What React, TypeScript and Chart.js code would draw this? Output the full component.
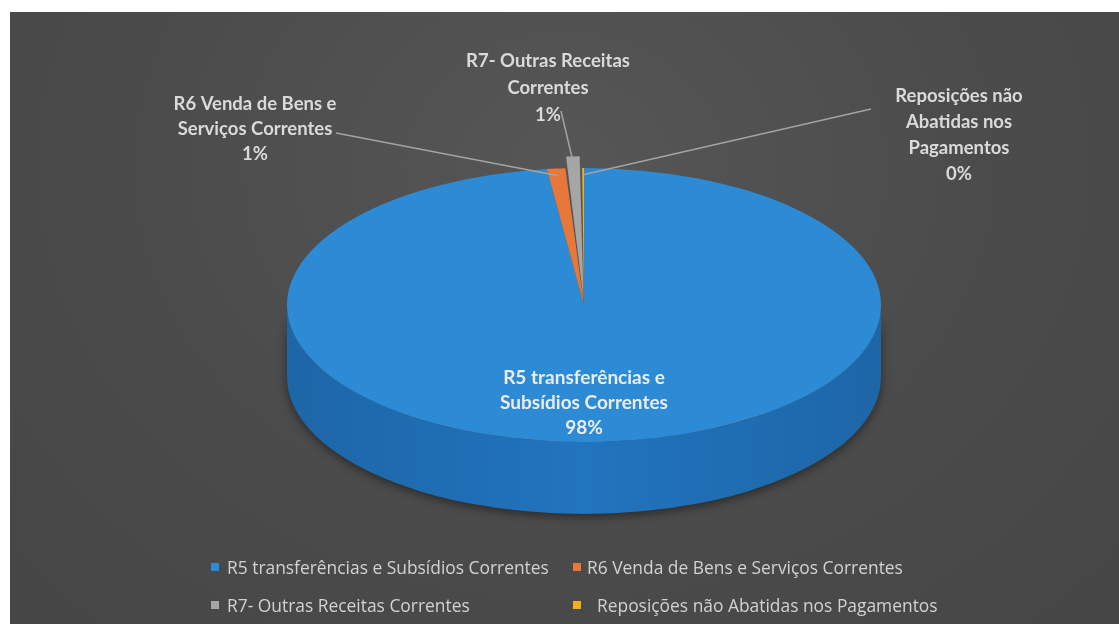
import React, { useEffect, useRef } from 'react';
import { Chart, registerables } from 'chart.js';

Chart.register(...registerables);

// ---------- data ----------
const categories = [
  'R5 transferências e Subsídios Correntes',
  'R6 Venda de Bens e Serviços Correntes',
  'R7- Outras Receitas Correntes',
  'Reposições não Abatidas nos Pagamentos',
];
const values = [98.0, 1.0, 0.9, 0.1];
const labelLines = [
  ['R5 transferências e', 'Subsídios Correntes'],
  ['R6 Venda de Bens e', 'Serviços Correntes'],
  ['R7- Outras Receitas', 'Correntes'],
  ['Reposições não', 'Abatidas nos', 'Pagamentos'],
];

// ---------- styles / layout ----------
const colors = ['#2d8bd6', '#e8773a', '#a6a6a6', '#f2b01e'];
const W = 1109;
const H = 612;
const PIE_RADIUS = 297;
const TILT = 137 / 297;
const DEPTH = 72;
const OFFSETS = [0, 0, 52, 0];
// outside label blocks (canvas coords of first line centre) and leader line start
const OUTER_LABELS: ({ x: number; y: number; lx: number; ly: number; lh: number } | null)[] = [
  null,
  { x: 245, y: 92, lx: 326, ly: 121, lh: 25 },
  { x: 538, y: 49, lx: 551, ly: 99, lh: 27 },
  { x: 949, y: 84, lx: 861, ly: 97, lh: 26 },
];
const INNER_LABEL_DY = 73;
const INNER_LH = 25;
const OUTER_FONT = 'bold 18.5px Lato, "Open Sans", sans-serif';
const INNER_FONT = 'bold 19px Lato, "Open Sans", sans-serif';

const total = values.reduce((a, b) => a + b, 0);
const pct = (v: number) => Math.round((v / total) * 100) + '%';

const effOffset = (arc: any) => {
  const off = (arc.options.offset || 0) / 4;
  const c = arc.endAngle - arc.startAngle;
  return off * (2 - Math.sin(Math.min(Math.PI, c)));
};

const pie3d = {
  id: 'pie3d',
  beforeDatasetsDraw(chart: any) {
    const ctx: CanvasRenderingContext2D = chart.ctx;
    const arcs = chart.getDatasetMeta(0).data;
    if (!arcs.length) return;
    const cx = arcs[0].x;
    const cy = arcs[0].y;
    const R = arcs[0].outerRadius;
    const ry = R * TILT;
    ctx.save();
    const grad = ctx.createLinearGradient(cx - R, 0, cx + R, 0);
    grad.addColorStop(0, '#1d66a8');
    grad.addColorStop(0.5, '#2174be');
    grad.addColorStop(1, '#1d66a8');
    arcs.forEach((arc: any, i: number) => {
      const a1 = Math.max(arc.startAngle, 0);
      const a2 = Math.min(arc.endAngle, Math.PI);
      if (a2 <= a1) return;
      ctx.save();
      ctx.shadowColor = 'rgba(0,0,0,0.45)';
      ctx.shadowBlur = 10;
      ctx.shadowOffsetY = 3;
      ctx.beginPath();
      ctx.ellipse(cx, cy, R, ry, 0, a1, a2, false);
      ctx.lineTo(cx + R * Math.cos(a2), cy + ry * Math.sin(a2) + DEPTH);
      ctx.ellipse(cx, cy + DEPTH, R, ry, 0, a2, a1, true);
      ctx.closePath();
      ctx.fillStyle = i === 0 ? grad : colors[i];
      ctx.fill();
      ctx.restore();
    });
    ctx.restore();
    ctx.save();
    ctx.translate(cx, cy);
    ctx.scale(1, TILT);
    ctx.translate(-cx, -cy);
  },
  afterDatasetsDraw(chart: any) {
    chart.ctx.restore();
  },
};

const pieLabels = {
  id: 'pieLabels',
  afterDraw(chart: any) {
    const ctx: CanvasRenderingContext2D = chart.ctx;
    const arcs = chart.getDatasetMeta(0).data;
    if (!arcs.length) return;
    const cx = arcs[0].x;
    const cy = arcs[0].y;
    ctx.save();
    ctx.textAlign = 'center';
    ctx.textBaseline = 'middle';
    arcs.forEach((arc: any, i: number) => {
      const lines = [...labelLines[i], pct(values[i])];
      const cfg = OUTER_LABELS[i];
      if (!cfg) {
        ctx.font = INNER_FONT;
        ctx.fillStyle = '#ececec';
        lines.forEach((t, k) => ctx.fillText(t, cx, cy + INNER_LABEL_DY + k * INNER_LH));
        return;
      }
      const mid = (arc.startAngle + arc.endAngle) / 2;
      const r = arc.outerRadius * 0.95 + effOffset(arc);
      const ex = cx + r * Math.cos(mid);
      const ey = cy + r * Math.sin(mid) * TILT;
      ctx.strokeStyle = '#a3a3a3';
      ctx.lineWidth = 1.5;
      ctx.beginPath();
      ctx.moveTo(cfg.lx, cfg.ly);
      ctx.lineTo(ex, ey);
      ctx.stroke();
      ctx.font = OUTER_FONT;
      ctx.fillStyle = '#dadada';
      lines.forEach((t, k) => ctx.fillText(t, cfg.x, cfg.y + k * cfg.lh));
    });
    ctx.restore();
  },
};

export default function App() {
  const ref = useRef<HTMLCanvasElement>(null);
  useEffect(() => {
    const chart = new Chart(ref.current!, {
      type: 'pie',
      data: {
        labels: categories,
        datasets: [
          {
            data: values,
            backgroundColor: colors,
            borderWidth: 0,
            offset: OFFSETS,
            hoverOffset: 0,
          } as any,
        ],
      },
      options: {
        animation: false,
        responsive: false,
        devicePixelRatio: 1,
        radius: PIE_RADIUS,
        layout: { padding: { left: 39, bottom: 26, top: 0, right: 0 } },
        events: [],
        plugins: { legend: { display: false }, tooltip: { enabled: false } },
      } as any,
      plugins: [pie3d, pieLabels],
    });
    return () => chart.destroy();
  }, []);

  const legendItem = (i: number, left: number, top: number, gap: number) => (
    <div
      key={i}
      style={{
        position: 'absolute',
        left,
        top,
        display: 'flex',
        alignItems: 'center',
        whiteSpace: 'nowrap',
        transform: 'translateY(-50%)',
      }}
    >
      <span style={{ width: 8, height: 8, background: colors[i], display: 'inline-block', marginRight: gap }} />
      <span>{categories[i]}</span>
    </div>
  );

  return (
    <div
      style={{
        position: 'absolute',
        left: 10,
        top: 12,
        width: W,
        height: H,
        background: 'radial-gradient(ellipse at 50% 25%, #565656 0%, #4b4b4b 55%, #464646 100%)',
        fontFamily: '"Open Sans", Lato, sans-serif',
        fontSize: 17.4,
        color: '#d2d2d2',
      }}
    >
      <canvas ref={ref} width={W} height={H} style={{ display: 'block', width: W, height: H }} />
      {legendItem(0, 201, 555, 8)}
      {legendItem(1, 563, 555, 6)}
      {legendItem(2, 201, 593, 8)}
      {legendItem(3, 563, 593, 16)}
    </div>
  );
}
